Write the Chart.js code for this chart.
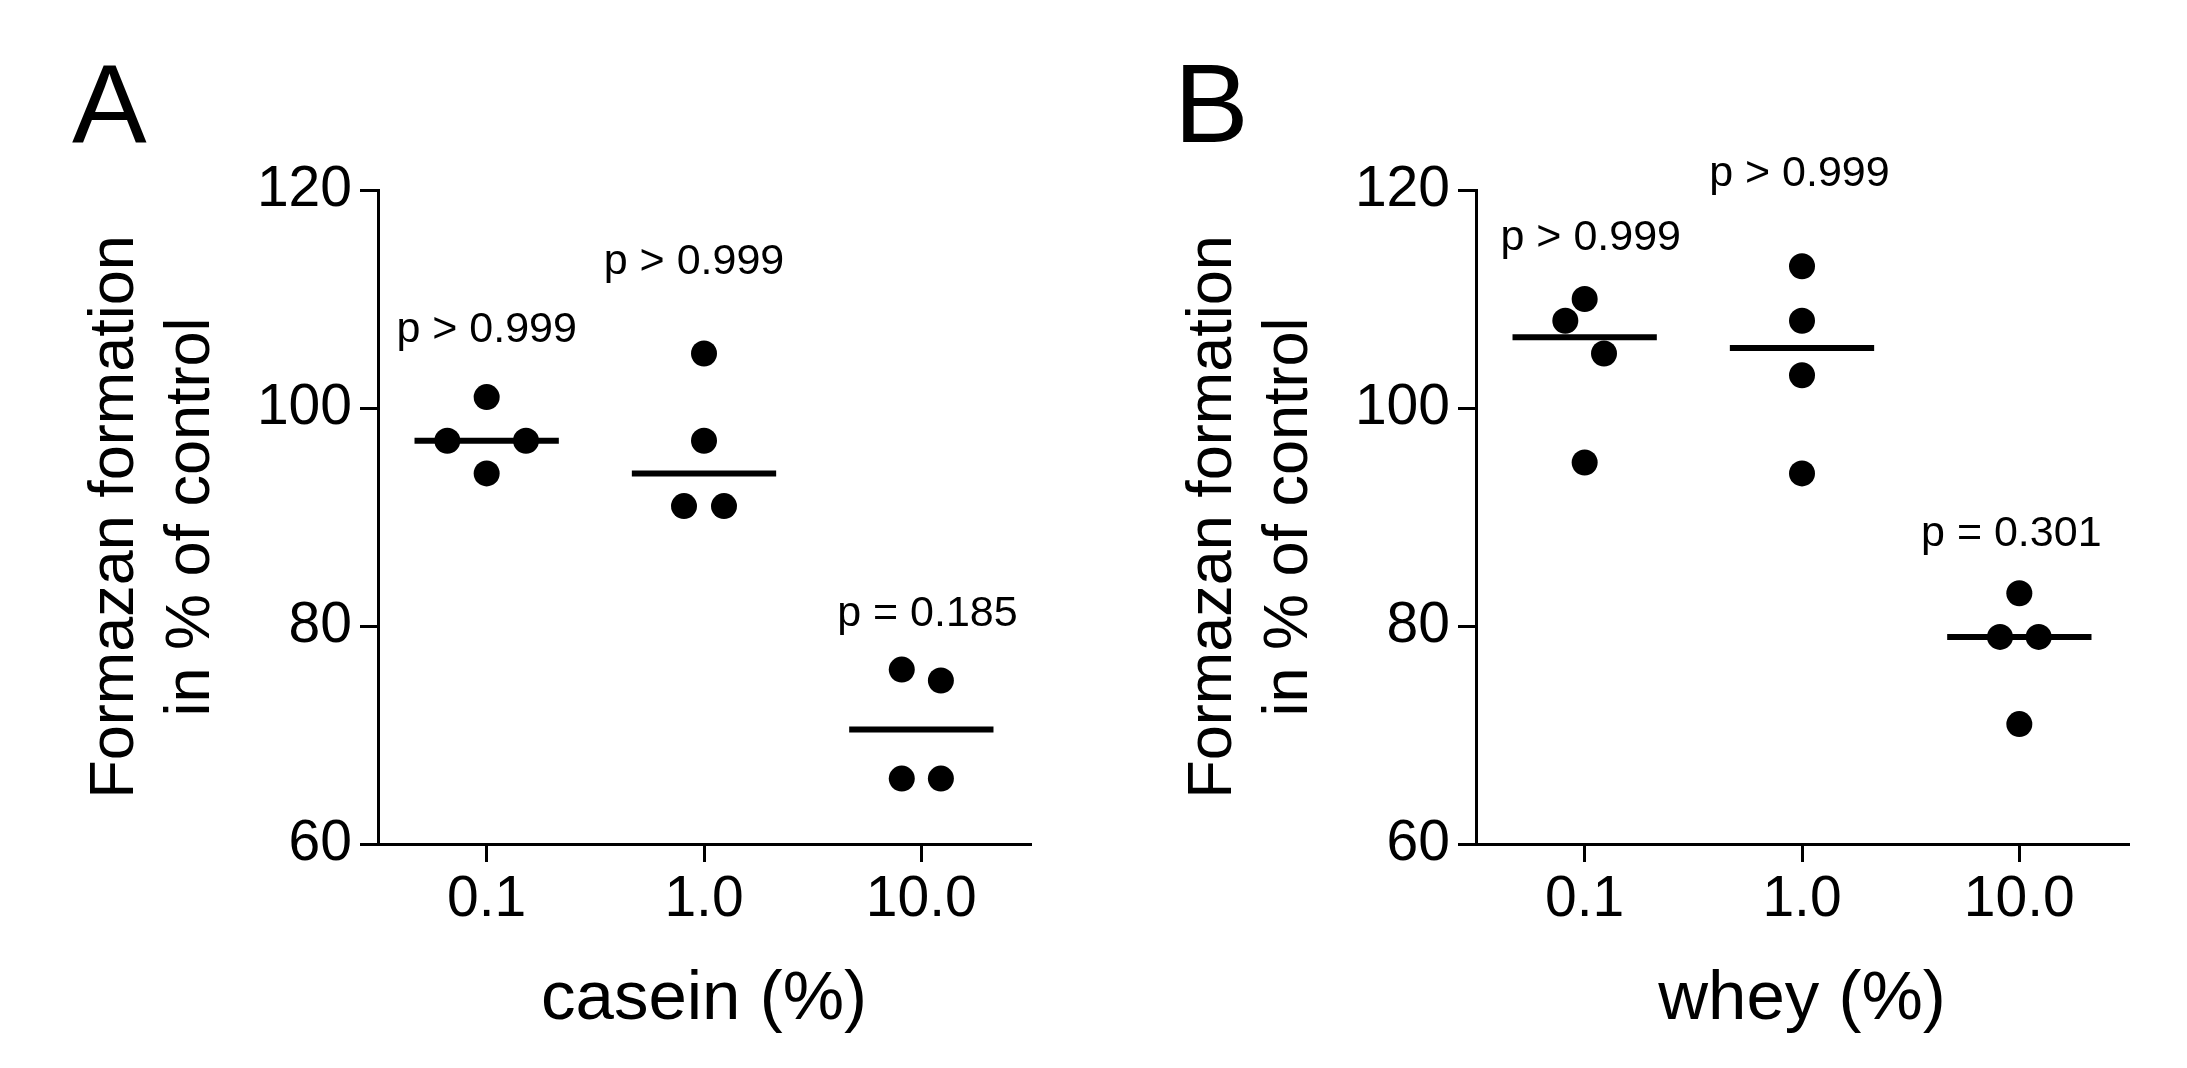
<!DOCTYPE html>
<html lang="en">
<head>
    <meta charset="UTF-8">
    <title>Formazan formation - casein / whey</title>
    <script src="https://cdn.jsdelivr.net/npm/chart.js"></script>
    <style>
        body { margin: 0; width: 2187px; height: 1068px; overflow: hidden; background: #fff; }
        .panel { position: absolute; top: 0; width: 1098px; height: 1068px; }
        .letter {
            position: absolute; top: 48px;
            font: 112px/1 "Liberation Sans", Arial, Helvetica, sans-serif;
            color: #000;
        }
    </style>
</head>
<body>
    <div class="panel" style="left:0"><canvas id="chartA"></canvas></div>
    <div class="panel" style="left:1098px"><canvas id="chartB"></canvas></div>
    <div class="letter" style="left:72px">A</div>
    <div class="letter" style="left:1174px">B</div>
    <script>
        // categories and tick labels
        const doseLabels = ['0.1', '1.0', '10.0'];
        const yTicks = [60, 80, 100, 120];

        // casein (%), formazan formation in % of control, n = 4 per dose
        const casein01 = [101, 97, 97, 94];
        const casein1 = [105, 97, 91, 91];
        const casein10 = [76, 75, 66, 66];
        const caseinP = ['p > 0.999', 'p > 0.999', 'p = 0.185'];

        // whey (%)
        const whey01 = [110, 108, 105, 95];
        const whey1 = [113, 108, 103, 94];
        const whey10 = [83, 79, 79, 71];
        const wheyP = ['p > 0.999', 'p > 0.999', 'p = 0.301'];

        // layout only: horizontal spread of overlapping dots (category units)
        const caseinSpread = [[0, -0.181, 0.181, 0], [0, 0, -0.092, 0.092], [-0.09, 0.09, -0.09, 0.09]];
        const wheySpread = [[0, -0.089, 0.089, 0], [0, 0, 0, 0], [0, -0.089, 0.089, 0]];
        // layout only: where the p labels sit (baseline, data units)
        const caseinPAt = { dx: [0, -0.046, 0.028], y: [106.1, 112.3, 80.0] };
        const wheyPAt = { dx: [0.028, -0.012, -0.037], y: [114.5, 120.4, 87.3] };

        const FONT = '"Liberation Sans", Arial, Helvetica, sans-serif';
        const lineHalf = 0.332;

        Chart.defaults.font.family = FONT;
        Chart.defaults.color = '#000';

        function median(arr) {
            const s = arr.slice().sort((a, b) => a - b);
            const m = Math.floor(s.length / 2);
            return s.length % 2 ? s[m] : (s[m - 1] + s[m]) / 2;
        }

        //p-value text above each group
        const pValuePlugin = {
            id: 'pValues',
            afterDatasetsDraw(chart, args, opts) {
                const ctx = chart.ctx;
                const xs = chart.scales.x, ys = chart.scales.y;
                ctx.save();
                ctx.font = '43px ' + FONT;
                ctx.fillStyle = '#000';
                ctx.textAlign = 'center';
                ctx.textBaseline = 'alphabetic';
                opts.labels.forEach((t, i) => {
                    ctx.fillText(t, xs.getPixelForValue(i + opts.dx[i]), ys.getPixelForValue(opts.y[i]));
                });
                ctx.restore();
            }
        };

        function makePanel(id, groups, spread, pLabels, pAt, xTitle) {
            const datasets = [];
            groups.forEach((vals, i) => {
                datasets.push({
                    type: 'scatter',
                    data: vals.map((v, j) => ({ x: i + spread[i][j], y: v })),
                    pointRadius: 13,
                    pointHoverRadius: 13,
                    pointBackgroundColor: '#000',
                    pointBorderWidth: 0,
                    showLine: false
                });
                const m = median(vals);
                datasets.push({
                    type: 'line',
                    data: [{ x: i - lineHalf, y: m }, { x: i + lineHalf, y: m }],
                    borderColor: '#000',
                    borderWidth: 6,
                    pointRadius: 0,
                    fill: false
                });
            });

            return new Chart(document.getElementById(id), {
                type: 'scatter',
                data: { datasets: datasets },
                plugins: [pValuePlugin],
                options: {
                    responsive: true,
                    maintainAspectRatio: false,
                    animation: false,
                    events: [],
                    layout: { padding: { top: 190, right: 68, bottom: 0, left: 0 } },
                    plugins: {
                        legend: { display: false },
                        tooltip: { enabled: false },
                        pValues: { labels: pLabels, dx: pAt.dx, y: pAt.y }
                    },
                    scales: {
                        x: {
                            type: 'linear',
                            min: -0.5,
                            max: 2.5,
                            afterBuildTicks: s => { s.ticks = doseLabels.map((_, i) => ({ value: i })); },
                            afterFit: s => { s.height = 224; },
                            ticks: {
                                callback: v => doseLabels[v],
                                font: { size: 57 },
                                color: '#000',
                                padding: 4,
                                maxRotation: 0
                            },
                            grid: { drawOnChartArea: false, drawTicks: true, tickLength: 18, color: '#000', lineWidth: 3 },
                            border: { display: true, color: '#000', width: 3 },
                            title: {
                                display: true,
                                text: xTitle,
                                font: { size: 69 },
                                color: '#000',
                                padding: { top: 0, bottom: 27 }
                            }
                        },
                        y: {
                            min: 60,
                            max: 120,
                            afterBuildTicks: s => { s.ticks = yTicks.map(v => ({ value: v })); },
                            afterFit: s => { s.width = 378; },
                            ticks: { font: { size: 57 }, color: '#000', padding: 8 },
                            grid: { drawOnChartArea: false, drawTicks: true, tickLength: 18, color: '#000', lineWidth: 3 },
                            border: { display: true, color: '#000', width: 3 },
                            title: {
                                display: true,
                                text: ['Formazan formation', 'in % of control'],
                                font: { size: 63 },
                                color: '#000',
                                padding: { top: 78, bottom: 0 }
                            }
                        }
                    }
                }
            });
        }

        makePanel('chartA', [casein01, casein1, casein10], caseinSpread, caseinP, caseinPAt, 'casein (%)');
        makePanel('chartB', [whey01, whey1, whey10], wheySpread, wheyP, wheyPAt, 'whey (%)');
    </script>
</body>
</html>
